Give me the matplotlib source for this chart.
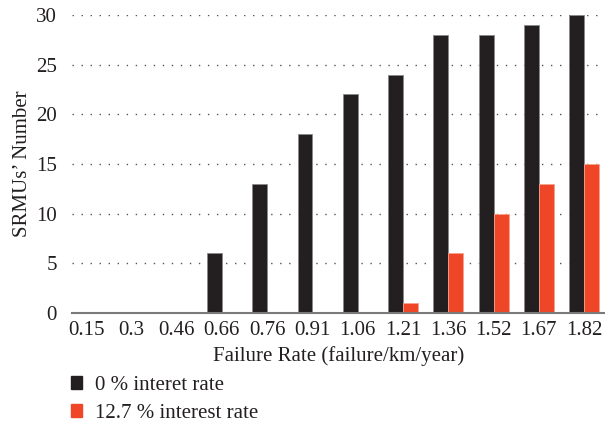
import matplotlib
matplotlib.use("Agg")
import matplotlib.pyplot as plt
import numpy as np
from matplotlib.patches import Patch

categories = ["0.15", "0.3", "0.46", "0.66", "0.76", "0.91", "1.06", "1.21", "1.36", "1.52", "1.67", "1.82"]
rate_0 = [0, 0, 0, 6, 13, 18, 22, 24, 28, 28, 29, 30]
rate_127 = [0, 0, 0, 0, 0, 0, 0, 1, 6, 10, 13, 15]
series_labels = ["0 % interet rate", "12.7 % interest rate"]
yticks = [0, 5, 10, 15, 20, 25, 30]

plt.rcParams['font.family'] = ['Liberation Serif', 'DejaVu Serif']
black = "#231f20"
red = "#ef4628"
fs = 15

fig = plt.figure(figsize=(6.05, 4.25), dpi=100)
ax = fig.add_axes([72/605, 1-313/425, 1-72/605, 298/425])

x = np.arange(len(categories))
w = 0.33
ax.bar(x - w/2, rate_0, width=w, color=black, edgecolor="#8a8a8a", linewidth=0.6, zorder=3)
ax.bar(x + w/2, rate_127, width=w, color=red, edgecolor="#f7a090", linewidth=0.6, zorder=3)

ax.set_xlim(-0.31, len(categories) - 0.54)
ax.set_ylim(0, 30)
ax.set_yticks(yticks)
ax.set_xticks(x)
ax.set_xticklabels(categories)
ax.tick_params(axis='both', length=0, labelsize=fs, colors="#231f20")
ax.tick_params(axis='y', pad=11)
ax.tick_params(axis='x', pad=6)
ax.yaxis.grid(True, linestyle=(0, (1, 5.5)), color="#555555", linewidth=1.0, zorder=0)
for s in ["top", "right", "left"]:
    ax.spines[s].set_visible(False)
ax.spines["bottom"].set_color("#7a7a7a")
ax.spines["bottom"].set_linewidth(1.5)
ax.spines["bottom"].set_zorder(4)

ax.set_xlabel("Failure Rate (failure/km/year)", fontsize=fs, color="#231f20", labelpad=4)
ax.set_ylabel("SRMUs’ Number", fontsize=fs, color="#231f20", labelpad=3)

handles = [Patch(facecolor=black, edgecolor=black), Patch(facecolor=red, edgecolor=red)]
fig.legend(handles, series_labels, loc="upper left", bbox_to_anchor=(71/605, 1-376/425),
           frameon=False, fontsize=fs, handlelength=0.55, handleheight=0.55,
           handletextpad=0.6, labelspacing=0.42, borderpad=0, borderaxespad=0,
           labelcolor="#231f20")

fig.savefig("out.png", dpi=100)
